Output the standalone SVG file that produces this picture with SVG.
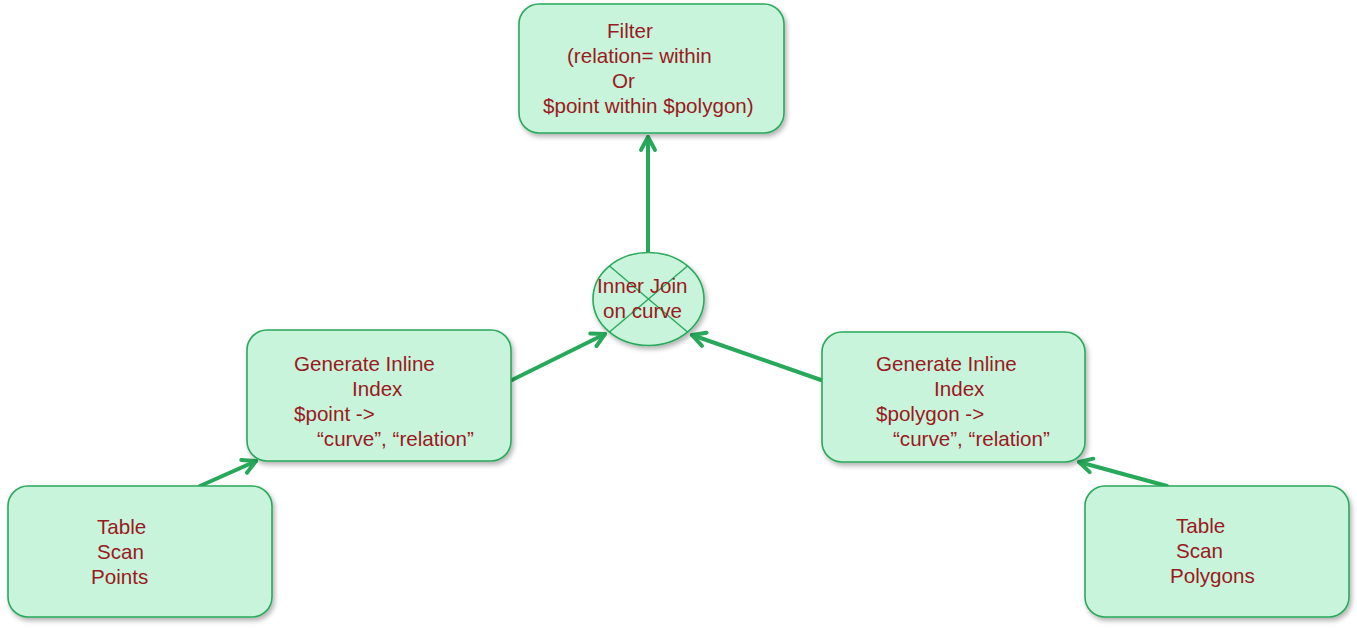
<svg xmlns="http://www.w3.org/2000/svg" width="1357" height="629" viewBox="0 0 1357 629">
<style>
.box{fill:#c7f4da;stroke:#2aa85c;stroke-width:1.6;filter:url(#sh)}
.t{font-family:"Liberation Sans",Arial,sans-serif;font-size:20.6px;fill:#9a1a22}
.c{fill:none;stroke:#27a85a;stroke-width:4;stroke-linecap:round;marker-end:url(#ah)}
.x{stroke:#2aa85c;stroke-width:1.4}
</style>
<defs>
<filter id="sh" x="-10%" y="-10%" width="125%" height="130%">
<feDropShadow dx="2" dy="3" stdDeviation="2.5" flood-color="#000" flood-opacity="0.3"/>
</filter>
<marker id="ah" markerUnits="userSpaceOnUse" viewBox="-16 -10 20 20" refX="0" refY="0" markerWidth="20" markerHeight="20" orient="auto">
<path d="M-13,-7 L0,0 L-13,7" fill="none" stroke="#27a85a" stroke-width="4" stroke-linecap="round" stroke-linejoin="round"/>
</marker>
</defs>
<g id="connectors">
<line class="c" x1="648" y1="253" x2="648" y2="137"/>
<line class="c" x1="512" y1="380" x2="605" y2="334"/>
<line class="c" x1="821" y1="380" x2="692" y2="335"/>
<line class="c" x1="200" y1="486" x2="256" y2="461"/>
<line class="c" x1="1167" y1="486" x2="1079" y2="462"/>
</g>
<g id="filter">
<rect class="box" x="519" y="4" width="265" height="129" rx="20"/>
<text class="t" x="607" y="38">Filter</text>
<text class="t" x="567" y="63">(relation= within</text>
<text class="t" x="612" y="88">Or</text>
<text class="t" x="543" y="113">$point within $polygon)</text>
</g>
<g id="join">
<ellipse class="box" cx="648.5" cy="299" rx="55.5" ry="46.5"/>
<line class="x" x1="609.5" y1="266" x2="687.5" y2="332"/>
<line class="x" x1="687.5" y1="266" x2="609.5" y2="332"/>
<text class="t" x="597" y="293">Inner Join</text>
<text class="t" x="603" y="318">on curve</text>
</g>
<g id="gen-left">
<rect class="box" x="247" y="330" width="264" height="131" rx="20"/>
<text class="t" x="294" y="371">Generate Inline</text>
<text class="t" x="352" y="396">Index</text>
<text class="t" x="294" y="421">$point -&gt;</text>
<text class="t" x="317" y="446">“curve”, “relation”</text>
</g>
<g id="gen-right">
<rect class="box" x="822" y="332" width="263" height="130" rx="20"/>
<text class="t" x="876" y="371">Generate Inline</text>
<text class="t" x="934" y="396">Index</text>
<text class="t" x="876" y="421">$polygon -&gt;</text>
<text class="t" x="893" y="446">“curve”, “relation”</text>
</g>
<g id="scan-points">
<rect class="box" x="8" y="486" width="264" height="131" rx="20"/>
<text class="t" x="97" y="534">Table</text>
<text class="t" x="97" y="559">Scan</text>
<text class="t" x="91" y="584">Points</text>
</g>
<g id="scan-polygons">
<rect class="box" x="1085" y="486" width="264" height="131" rx="20"/>
<text class="t" x="1176" y="533">Table</text>
<text class="t" x="1176" y="558">Scan</text>
<text class="t" x="1170" y="583">Polygons</text>
</g>
</svg>
